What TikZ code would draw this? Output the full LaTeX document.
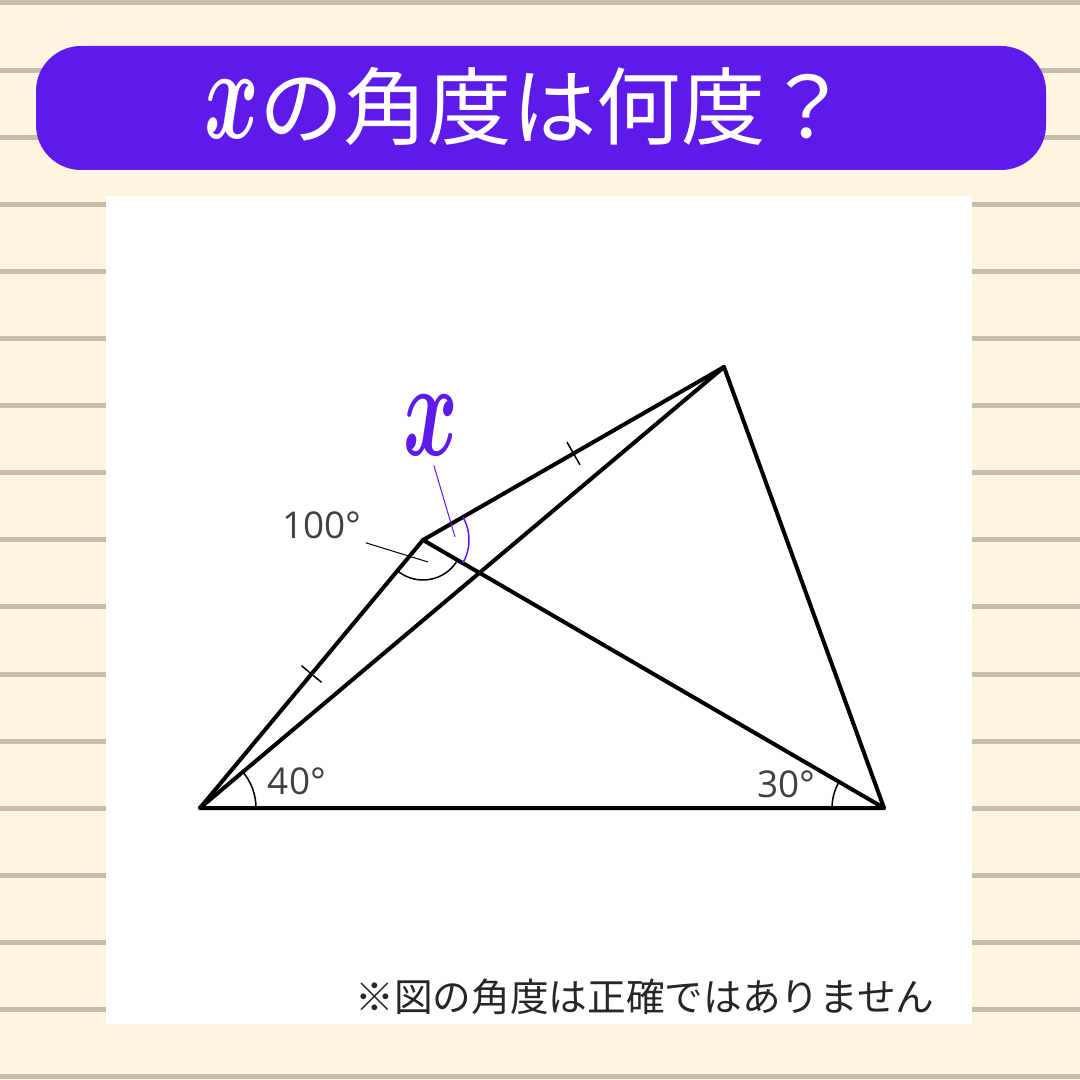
\documentclass[tikz,border=0pt]{standalone}
\usepackage{fontspec}
\usepackage{graphicx}
\setmainfont{Open Sans}
\newfontfamily\jpfont{Noto Sans CJK JP}
\usetikzlibrary{calc}
\definecolor{qpurple}{RGB}{94,26,232}
\definecolor{qcream}{RGB}{253,245,223}
\definecolor{qrule}{RGB}{197,189,170}

\begin{document}
\begin{tikzpicture}[
  x=0.01cm, y=-0.01cm,
  rule/.style={draw=qrule, line width=0.05cm},
  edge/.style={line width=0.04cm, line cap=round, line join=round},
  tick/.style={line width=0.015cm},
  anglearc/.style={line width=0.015cm},
  leader/.style={line width=0.01cm},
  deglabel/.style={font=\fontsize{10.5}{12}\selectfont, text=black!75, inner sep=1pt},
  titletext/.style={font=\jpfont\fontsize{24}{28}\selectfont, text=white, inner sep=0pt}
]

% Background
\useasboundingbox[fill=qcream] (0,0) rectangle (1080,1080);
\foreach \k in {0,...,16}
  \draw[rule] (0,{3+67.1*\k}) -- (1080,{3+67.1*\k});

% Title
\fill[qpurple, rounded corners=0.45cm] (36,46) rectangle (1046,170);
\node[titletext] (title) at (527,107) {\scalebox{0.95}[1.5]{\fontsize{32}{32}\selectfont\boldmath$x$}の角度は何度？};

% Panel
\fill[white] (106,196) rectangle (972,1024);

% Points
\coordinate (A) at (200,808);
\coordinate (B) at (884,808);
\coordinate (C) at (423,540);
\coordinate (D) at (724,367);

% Edges
\draw[edge] (A) -- (B) -- (D) -- (C) -- cycle;
\draw[edge] (A) -- (D);
\draw[edge] (C) -- (B);

% Equal marks
\coordinate (mAC) at ($(A)!0.5!(C)$);
\coordinate (mCD) at ($(C)!0.5!(D)$);
\draw[tick] ($(mAC)!0.13cm!90:(C)$) -- ($(mAC)!0.13cm!-90:(C)$);
\draw[tick] ($(mCD)!0.13cm!90:(D)$) -- ($(mCD)!0.13cm!-90:(D)$);

% Angle arcs
\draw[anglearc] ($(A)+(0:56)$) arc[start angle=0, end angle=-40.1, radius=56];
\draw[anglearc] ($(B)+(180:52)$) arc[start angle=180, end angle=210.2, radius=52];
\draw[anglearc] ($(C)+(30.2:40)$) arc[start angle=30.2, end angle=129.8, radius=40];
\draw[anglearc, qpurple] ($(C)+(-29.9:46)$) arc[start angle=-29.9, end angle=30.2, radius=46];

% Labels
\node[deglabel] (d100) at (322,525) {100°};
\node[deglabel] (d40) at (297,781) {40°};
\node[deglabel] (d30) at (786,784) {30°};
\node[text=qpurple, inner sep=0pt] (xlab) at (431,425) {\scalebox{0.95}[1.55]{\fontsize{24}{24}\selectfont\boldmath$x$}};
\coordinate (p100) at (428,562);
\coordinate (px) at (455,537);
\draw[leader] (d100.south east) -- (p100);
\draw[leader, qpurple, shorten <=0.1cm] (xlab.south) -- (px);

% Note
\node[font=\jpfont\fontsize{11}{13}\selectfont, text=black!85] (note) at (645,997) {※図の角度は正確ではありません};

\end{tikzpicture}
\end{document}
